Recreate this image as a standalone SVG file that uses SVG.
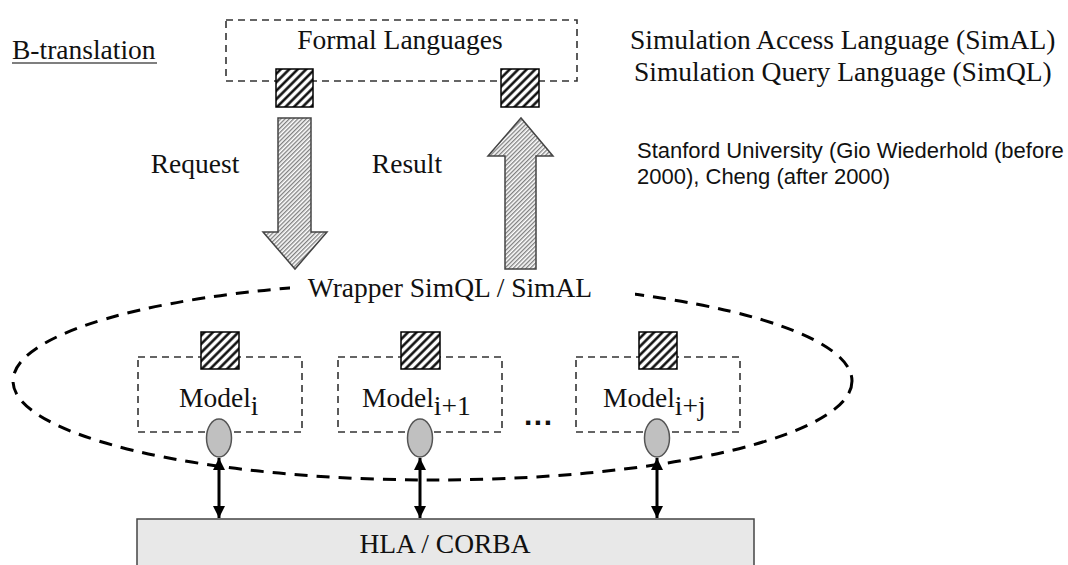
<svg xmlns="http://www.w3.org/2000/svg" width="1068" height="565" viewBox="0 0 1068 565">
  <defs>
    <!-- coarse hatch for the interface squares -->
    <pattern id="hatchBold" patternUnits="userSpaceOnUse" width="6" height="6" patternTransform="rotate(45)">
      <rect width="6" height="6" fill="#fff"/>
      <line x1="1.5" y1="0" x2="1.5" y2="6" stroke="#000" stroke-width="2.4"/>
    </pattern>
    <!-- fine hatch for the large block arrows -->
    <pattern id="hatchFine" patternUnits="userSpaceOnUse" width="3" height="3" patternTransform="rotate(45)">
      <rect width="3" height="3" fill="#fff"/>
      <line x1="0.75" y1="0" x2="0.75" y2="3" stroke="#555" stroke-width="1"/>
    </pattern>
    <marker id="head" viewBox="0 0 10 10" refX="10" refY="5" markerWidth="4" markerHeight="4" orient="auto-start-reverse" markerUnits="strokeWidth">
      <path d="M0,0 L10,5 L0,10 z" fill="#000"/>
    </marker>
  </defs>
  <style>
    .serif { font-family: "Liberation Serif", "Times New Roman", serif; font-size: 27.5px; fill: #111; }
    .sans { font-family: "Liberation Sans", Arial, sans-serif; font-size: 22px; fill: #111; }
    .dash-box { fill: none; stroke: #333; stroke-width: 1.6; stroke-dasharray: 7 5; }
    .port { fill: url(#hatchBold); stroke: #000; stroke-width: 1.5; }
    .block-arrow { fill: url(#hatchFine); stroke: #444; stroke-width: 1.5; }
    .plug { fill: #c0c0c0; stroke: #555; stroke-width: 1.5; }
    .link { stroke: #000; stroke-width: 3; fill: none; }
  </style>

  <rect width="1068" height="565" fill="#fff"/>

  <!-- section title -->
  <g id="title">
    <text class="serif" x="12" y="59">B-translation</text>
    <line x1="12" y1="63" x2="157" y2="63" stroke="#555" stroke-width="1.5"/>
  </g>

  <!-- language notes -->
  <g id="notes">
    <text class="serif" x="630" y="49">Simulation Access Language (SimAL)</text>
    <text class="serif" x="634" y="81">Simulation Query Language (SimQL)</text>
    <text class="sans" x="637" y="158">Stanford University (Gio Wiederhold (before</text>
    <text class="sans" x="637" y="184">2000), Cheng (after 2000)</text>
  </g>

  <!-- wrapper boundary -->
  <g id="wrapper">
    <ellipse cx="432.5" cy="381" rx="419.5" ry="99" fill="none" stroke="#000" stroke-width="3" stroke-dasharray="13 9"/>
    <rect x="290" y="274" width="345" height="32" fill="#fff"/>
    <text class="serif" x="450" y="297" text-anchor="middle">Wrapper SimQL / SimAL</text>
  </g>

  <g id="formal-languages">
    <rect class="dash-box" x="226" y="20" width="351" height="61" stroke-width="2"/>
    <text class="serif" x="400" y="49" text-anchor="middle">Formal Languages</text>
    <rect class="port" x="276" y="69" width="37" height="38"/>
    <rect class="port" x="501" y="69" width="38" height="38"/>
  </g>

  <g id="request">
    <path class="block-arrow" d="M278,118 L311,118 L311,232 L327,232 L295,269 L263,232 L278,232 Z"/>
    <text class="serif" x="195" y="173" text-anchor="middle">Request</text>
  </g>

  <g id="result">
    <path class="block-arrow" d="M505,269 L536,269 L536,156 L553,156 L521,118 L488,156 L505,156 Z"/>
    <text class="serif" x="407" y="173" text-anchor="middle">Result</text>
  </g>

  <g id="model-i">
    <rect class="dash-box" x="138" y="357" width="164" height="75"/>
    <rect class="port" x="201" y="332" width="38" height="37"/>
    <text class="serif" x="179" y="407">Model<tspan dy="8">i</tspan></text>
    <ellipse class="plug" cx="219" cy="438" rx="12.5" ry="19"/>
  </g>

  <g id="model-i1">
    <rect class="dash-box" x="338" y="357" width="164" height="75"/>
    <rect class="port" x="401" y="332" width="39" height="37"/>
    <text class="serif" x="362" y="407">Model<tspan dy="8">i+1</tspan></text>
    <ellipse class="plug" cx="420" cy="438" rx="12.5" ry="19"/>
  </g>

  <g id="ellipsis">
    <text x="524" y="425" font-family="Liberation Sans, Arial, sans-serif" font-size="30" font-weight="bold" letter-spacing="1.5" fill="#111">...</text>
  </g>

  <g id="model-ij">
    <rect class="dash-box" x="576" y="357" width="164" height="75"/>
    <rect class="port" x="639" y="332" width="38" height="37"/>
    <text class="serif" x="603" y="407">Model<tspan dy="8">i+j</tspan></text>
    <ellipse class="plug" cx="657" cy="438" rx="12.5" ry="19"/>
  </g>

  <g id="hla-corba">
    <rect x="137" y="519" width="617" height="60" fill="#e8e8e8" stroke="#444" stroke-width="1.5"/>
    <text class="serif" x="445" y="553" text-anchor="middle">HLA / CORBA</text>
  </g>

  <!-- bus links between model plugs and the runtime layer -->
  <g id="connectors">
    <line class="link" x1="219" y1="458" x2="219" y2="518" marker-start="url(#head)" marker-end="url(#head)"/>
    <line class="link" x1="420" y1="458" x2="420" y2="518" marker-start="url(#head)" marker-end="url(#head)"/>
    <line class="link" x1="657" y1="458" x2="657" y2="518" marker-start="url(#head)" marker-end="url(#head)"/>
  </g>
</svg>
